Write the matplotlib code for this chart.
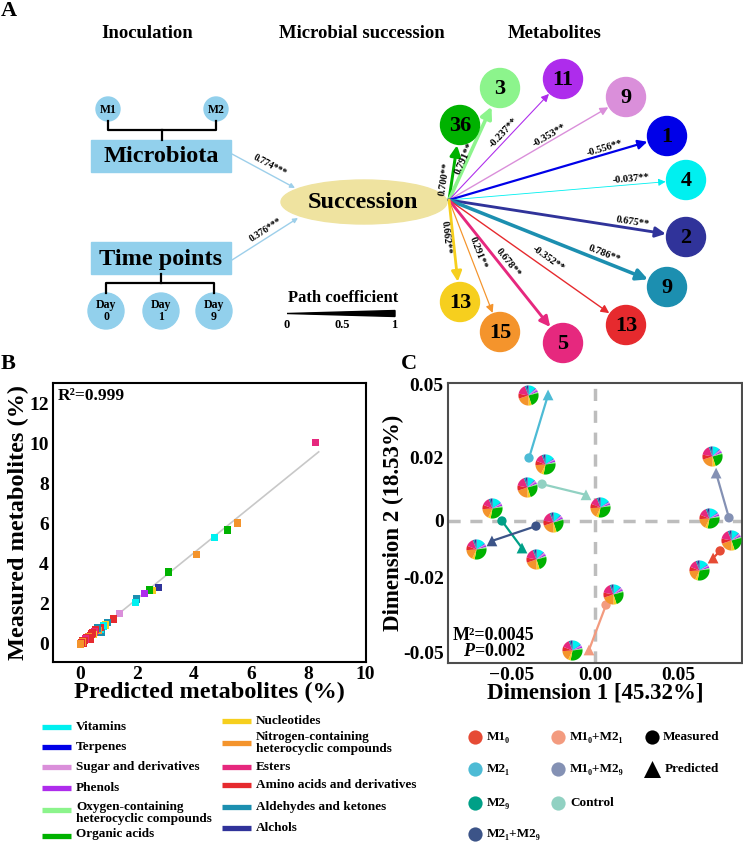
import numpy as np
import matplotlib
matplotlib.use('Agg')
import matplotlib.pyplot as plt
from matplotlib.patches import Circle, Ellipse, Rectangle, Polygon, FancyArrowPatch

plt.rcParams['font.family'] = ['Liberation Serif', 'DejaVu Serif']
plt.rcParams['font.weight'] = 'bold'
plt.rcParams['axes.labelweight'] = 'bold'
plt.rcParams['mathtext.fontset'] = 'custom'
plt.rcParams['mathtext.rm'] = 'Liberation Serif:bold'
plt.rcParams['mathtext.it'] = 'Liberation Serif:italic:bold'

# ---- data ----
categories = ['Vitamins', 'Terpenes', 'Sugar and derivatives', 'Phenols',
              'Oxygen-containing\nheterocyclic compounds', 'Organic acids',
              'Nucleotides', 'Nitrogen-containing\nheterocyclic compounds', 'Esters',
              'Amino acids and derivatives', 'Aldehydes and ketones', 'Alchols']
cat_colors = ['#00F0F0', '#0000E8', '#DA8FDA', '#AE2CEC', '#8CF48C', '#00B200',
              '#F6CF1E', '#F4942C', '#E6287E', '#E62A2E', '#1C8FB0', '#30339A']

input_names = ['Microbiota', 'Time points']
input_coef = ['0.774***', '0.376***']

met_cat = [5, 4, 3, 2, 1, 0, 11, 10, 9, 8, 7, 6]
met_counts = [36, 3, 11, 9, 1, 4, 2, 9, 13, 5, 15, 13]
met_coef = [0.700, 0.791, -0.237, -0.353, -0.556, -0.037, 0.675, 0.786, -0.352, 0.678, 0.291, 0.662]

# panel B: predicted vs measured (%)
pred = [8.27, 5.51, 5.16, 4.71, 4.07, 3.10, 2.76, 2.53, 2.42, 2.27, 1.98, 1.96, 1.39, 1.17,
        0.95, 0.88, 0.82, 0.76, 0.72, 0.70, 0.65, 0.62, 0.60, 0.55, 0.50, 0.48, 0.45, 0.40,
        0.35, 0.35, 0.30, 0.28, 0.22, 0.18, 0.15, 0.12, 0.10, 0.08, 0.05, 0.02]
meas = [10.03, 6.00, 5.65, 5.28, 4.43, 3.55, 2.77, 2.63, 2.65, 2.47, 2.20, 2.02, 1.48, 1.20,
        1.02, 0.90, 0.85, 0.52, 0.70, 0.78, 0.62, 0.72, 0.75, 0.66, 0.55, 0.42, 0.50, 0.45,
        0.38, 0.20, 0.33, 0.25, 0.25, 0.20, 0.12, -0.02, 0.10, 0.05, 0.00, -0.05]
pt_cat = [8, 7, 5, 0, 7, 5, 11, 6, 5, 3, 10, 0, 2, 9,
          10, 6, 0, 10, 0, 9, 7, 9, 10, 9, 8, 6, 9, 9,
          9, 9, 7, 9, 9, 8, 9, 9, 9, 7, 9, 7]

# panel C: Procrustes
groups = ['M1\u2080', 'M2\u2081', 'M2\u2089', 'M2\u2081+M2\u2089',
          'M1\u2080+M2\u2081', 'M1\u2080+M2\u2089', 'Control']
group_colors = ['#E64B35', '#4DBBD5', '#00A087', '#3C5488', '#F39B7F', '#8491B4', '#91D1C2']
meas_d1 = [0.0749, -0.0395, -0.0557, -0.0353, 0.0066, 0.0802, -0.0317]
meas_d2 = [-0.0105, 0.0200, 0.0000, -0.0018, -0.0308, 0.0010, 0.0117]
pred_d1 = [0.0707, -0.0281, -0.0437, -0.0617, -0.0036, 0.0725, -0.0054]
pred_d2 = [-0.0130, 0.0459, -0.0095, -0.0070, -0.0488, 0.0152, 0.0083]
pie_d1 = [-0.0401, -0.0300, -0.0407, -0.0617, -0.0251, -0.0713, -0.0353,
          0.0030, 0.0701, 0.0683, 0.0814, 0.0623, 0.0108, -0.0138]
pie_d2 = [0.0459, 0.0181, 0.0108, 0.0041, -0.0004, -0.0098, -0.0133,
          0.0044, 0.0210, 0.0010, -0.0067, -0.0172, -0.0264, -0.0490]
# pie composition, clockwise from 12 o'clock, category index and share
pie_cats = [0, 1, 2, 3, 4, 5, 6, 7, 9, 8, 10, 11]
pie_share_a = [0.12, 0.01, 0.03, 0.03, 0.02, 0.24, 0.05, 0.20, 0.08, 0.16, 0.03, 0.03]
pie_share_b = [0.15, 0.01, 0.02, 0.03, 0.02, 0.30, 0.04, 0.17, 0.07, 0.13, 0.03, 0.03]

y_ticks_c = [-0.05, -0.02, 0, 0.02, 0.05]
y_ticks_c_lab = ['-0.05', '-0.02', '0', '0.02', '0.05']

# ---- figure ----
fig = plt.figure(figsize=(7.43, 8.42), dpi=100)
ax0 = fig.add_axes([0, 0, 1, 1])
ax0.set_xlim(0, 743)
ax0.set_ylim(842, 0)
ax0.axis('off')

blue_box = '#92D0EC'
ax0.text(1, 11, 'A', fontsize=16, va='center', ha='left')
ax0.text(147, 34, 'Inoculation', fontsize=13.5, ha='center', va='center')
ax0.text(362, 34, 'Microbial succession', fontsize=13.5, ha='center', va='center')
ax0.text(555, 33, 'Metabolites', fontsize=13.5, ha='center', va='center')

# inoculation part
for x, lab in [(108, 'M1'), (216, 'M2')]:
    ax0.add_patch(Circle((x, 109), 12, color=blue_box))
    ax0.text(x, 110, lab, fontsize=8.5, ha='center', va='center')
ax0.plot([108, 108, 216, 216], [121, 130, 130, 121], color='black', lw=1.6)
ax0.plot([162, 162], [130, 140], color='black', lw=1.6)
for y0, name in zip([140, 242], input_names):
    ax0.add_patch(Rectangle((91, y0), 140, 32, color=blue_box))
    ax0.text(161, y0 + 17, name, fontsize=17.5, ha='center', va='center')
ax0.plot([161, 161], [274, 283], color='black', lw=1.6)
ax0.plot([106, 106, 214, 214], [293, 283, 283, 293], color='black', lw=1.6)
for x, d in [(106, '0'), (161, '1'), (214, '9')]:
    ax0.add_patch(Circle((x, 311), 18, color=blue_box))
    ax0.text(x, 311, 'Day\n' + d, fontsize=8.5, ha='center', va='center', linespacing=1.0)

ax0.add_patch(Ellipse((364, 202), 166, 44, color='#EFE3A0'))
ax0.text(363, 202, 'Succession', fontsize=17.5, ha='center', va='center')

lab_pos = [(270, 165), (266, 230)]
for (p0, p1), lab, lp in zip([((232, 154), (295, 188)), ((232, 260), (298, 218))], input_coef, lab_pos):
    ax0.add_patch(FancyArrowPatch(p0, p1, arrowstyle='-|>', mutation_scale=7, lw=1,
                                  color='#9DCFEA', shrinkA=0, shrinkB=0))
    ang = np.degrees(np.arctan2(-(p1[1] - p0[1]), p1[0] - p0[0]))
    ax0.text(lp[0], lp[1], lab, fontsize=7, rotation=ang, rotation_mode='anchor',
             ha='center', va='center')

# path coefficient scale
ax0.text(343, 298, 'Path coefficient', fontsize=12, ha='center', va='center')
ax0.add_patch(Polygon([(287, 313.5), (395, 310.5), (395, 316.5)], color='black'))
for x, lab in [(287, '0'), (342, '0.5'), (394, '1')]:
    ax0.text(x, 325, lab, fontsize=9, ha='center', va='center')

# metabolites
hub = np.array([449.0, 200.0])
met_xy = [(460, 125), (500, 88), (563, 79), (626, 97), (667, 136), (686, 180),
          (686, 237), (667, 287), (626, 325), (563, 343), (500, 332), (460, 302)]
lab_t = [0.27, 0.36, 0.52, 0.58, 0.72, 0.77, 0.77, 0.70, 0.53, 0.47, 0.42, 0.36]
lab_off = [7, 3, 6, 5, 6, 6, 6, 7, 9, 7, 8, -7]
r_met = 19.5
for i in range(len(met_counts)):
    c = np.array(met_xy[i], float)
    col = cat_colors[met_cat[i]]
    d = c - hub
    L = np.hypot(*d)
    u = d / L
    end = c - u * (r_met + 1)
    lw = 0.6 + 3.2 * met_coef[i] ** 2
    ax0.add_patch(FancyArrowPatch(tuple(hub), tuple(end), arrowstyle='-|>',
                                  mutation_scale=9 + 3 * lw, lw=lw, color=col,
                                  shrinkA=0, shrinkB=0, zorder=2))
    ax0.add_patch(Circle(tuple(c), r_met, color=col, zorder=3))
    ax0.text(c[0], c[1] + 1, str(met_counts[i]), fontsize=16, ha='center', va='center', zorder=4)
    n = np.array([d[1], -d[0]]) / L
    p = hub + lab_t[i] * d + lab_off[i] * n
    ang = np.degrees(np.arctan2(-d[1], d[0]))
    ax0.text(p[0], p[1], '%.3f**' % met_coef[i], fontsize=7.5, rotation=ang,
             rotation_mode='anchor', ha='center', va='center', zorder=5)

# ---- panel B ----
axB = fig.add_axes([53 / 743, (842 - 662) / 842, (366 - 53) / 743, (662 - 383) / 842])
coef = np.polyfit(pred, meas, 1)
xf = np.linspace(min(pred), max(pred) + 0.1, 50)
axB.plot(xf, np.polyval(coef, xf), color='#C8C8C8', lw=1.2, zorder=1)
axB.scatter(pred, meas, marker='s', s=26, c=[cat_colors[k] for k in pt_cat], zorder=2, linewidths=0)
axB.set_xlim(-0.95, 10.03)
axB.set_ylim(-0.95, 13.0)
axB.set_xticks(range(0, 11, 2))
axB.set_yticks(range(0, 13, 2))
axB.tick_params(labelsize=14, length=0, pad=3)
for s in axB.spines.values():
    s.set_linewidth(1.5)
axB.set_xlabel('Predicted metabolites (%)', fontsize=17.5, labelpad=-1)
axB.set_ylabel('Measured metabolites (%)', fontsize=17.5, labelpad=0)
axB.text(0.015, 0.955, 'R\u00b2=0.999', transform=axB.transAxes, fontsize=12.5, ha='left', va='center')
ax0.text(1, 364, 'B', fontsize=16, va='center', ha='left')

# legend for categories (two columns)
leg1 = [(0, 727), (1, 747), (2, 767), (3, 788), (4, 810), (5, 836)]
leg2 = [(6, 721), (7, 743), (8, 767), (9, 785), (10, 807), (11, 828)]
for items, x0 in [(leg1, 42), (leg2, 222)]:
    for k, y in items:
        ty = y
        if k == 4:
            ty = 813
        elif k == 5:
            ty = 834
        ax0.plot([x0, x0 + 29], [y, y], color=cat_colors[k], lw=3.8, solid_capstyle='butt')
        ax0.text(x0 + 34, ty, categories[k], fontsize=9.5, ha='left', va='center', linespacing=0.95)

# ---- panel C ----
yv = [-0.10, -0.05, -0.02, 0.0, 0.02, 0.05, 0.10]
yp = [-778, -653, -578, -521, -458, -385, -263]


def fwd(v):
    return np.interp(v, yv, yp)


def inv(p):
    return np.interp(p, yp, yv)


axC = fig.add_axes([448 / 743, (842 - 663) / 842, (742 - 448) / 743, (663 - 383) / 842])
axC.set_yscale('function', functions=(fwd, inv))
axC.set_xlim(-0.088, 0.088)
axC.set_ylim(-0.054, 0.0508)
axC.axhline(0, color='#BDBDBD', lw=2.5, ls=(0, (3.5, 2.8)), zorder=0)
axC.axvline(0, color='#BDBDBD', lw=2.5, ls=(0, (3.5, 2.8)), zorder=0)
for i in range(len(groups)):
    axC.plot([meas_d1[i], pred_d1[i]], [meas_d2[i], pred_d2[i]], color=group_colors[i], lw=1.6, zorder=2)
axC.scatter(meas_d1, meas_d2, s=45, c=group_colors, marker='o', linewidths=0, zorder=3)
axC.scatter(pred_d1, pred_d2, s=60, c=group_colors, marker='^', linewidths=0, zorder=3)

S = 14.5 ** 2
for j in range(len(pie_d1)):
    share = pie_share_a if j % 2 == 0 else pie_share_b
    start = 90.0
    for k, f in zip(pie_cats, share):
        th = np.radians(np.linspace(start, start - 360 * f, 20))
        verts = np.vstack([[0, 0], np.column_stack([np.cos(th), np.sin(th)]), [0, 0]])
        m = np.abs(verts).max()
        axC.scatter([pie_d1[j]], [pie_d2[j]], marker=verts, s=S * m ** 2,
                    color=cat_colors[k], linewidths=0, zorder=4)
        start -= 360 * f

axC.set_xticks([-0.05, 0, 0.05])
axC.set_xticklabels(['\u22120.05', '0.00', '0.05'])
axC.set_yticks(y_ticks_c)
axC.set_yticklabels(y_ticks_c_lab)
axC.yaxis.set_minor_locator(matplotlib.ticker.NullLocator())
axC.tick_params(labelsize=14, length=0, pad=3)
for s in axC.spines.values():
    s.set_linewidth(1.5)
    s.set_color('#4D4D4D')
axC.set_xlabel('Dimension 1 [45.32%]', fontsize=16.5, labelpad=-1)
axC.set_ylabel('Dimension 2 (18.53%)', fontsize=16.5, labelpad=-1)
axC.text(453, 635, 'M\u00b2=0.0045', fontsize=13, ha='left', va='center', zorder=10,
         transform=ax0.transData)
axC.text(463, 652, '$P$=0.002', fontsize=13, ha='left', va='center', zorder=10,
         transform=ax0.transData)
ax0.text(401, 364, 'C', fontsize=16, va='center', ha='left')

# legend for panel C
rows = [737, 769, 803, 834]
for i, g in enumerate(groups):
    col = 0 if i < 4 else 1
    row = i if i < 4 else i - 4
    x = [475, 558][col]
    ax0.scatter([x], [rows[row]], s=105, color=group_colors[i], linewidths=0)
    ax0.text(x + 12, rows[row], g, fontsize=9.5, ha='left', va='center')
ax0.scatter([652], [rows[0]], s=105, color='black', marker='o', linewidths=0)
ax0.text(663, rows[0], 'Measured', fontsize=9.5, ha='left', va='center')
ax0.scatter([652], [rows[1]], s=150, color='black', marker='^', linewidths=0)
ax0.text(665, rows[1], 'Predicted', fontsize=9.5, ha='left', va='center')

fig.savefig('out.png', dpi=100)
